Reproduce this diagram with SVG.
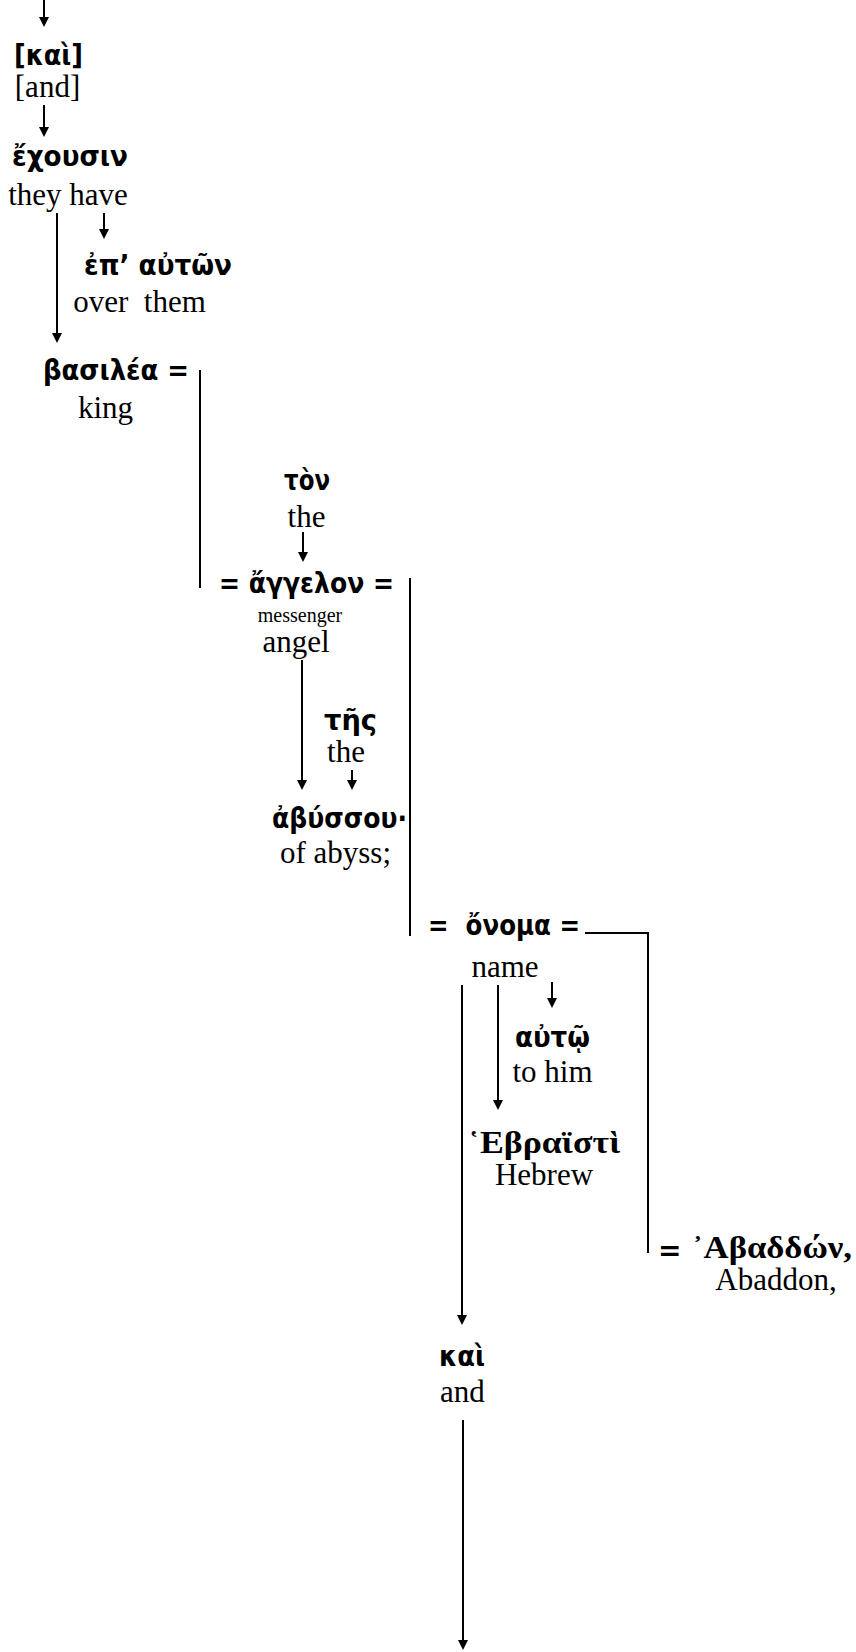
<svg xmlns="http://www.w3.org/2000/svg" width="856" height="1652" viewBox="0 0 856 1652">
<style>
.gk{font-family:"DejaVu Sans","Noto Sans",sans-serif;font-weight:bold;font-size:28px;fill:#000;white-space:pre}
.gs{font-family:"Liberation Serif","Times New Roman",serif;font-weight:bold;font-size:32px;fill:#000;white-space:pre}
.en{font-family:"Liberation Serif","Times New Roman",serif;font-size:31px;fill:#000;text-anchor:middle;white-space:pre}
.sm{font-family:"Liberation Serif","Times New Roman",serif;font-size:20px;fill:#000;text-anchor:middle}
.ln{stroke:#000;stroke-width:2;fill:none}
.ar{stroke:#000;stroke-width:2;fill:none;marker-end:url(#ah)}
</style>
<defs>
<marker id="ah" viewBox="0 0 10 10" refX="2" refY="5" markerWidth="10" markerHeight="10" markerUnits="userSpaceOnUse" orient="auto">
<path d="M0,0 L10,5 L0,10 z" fill="#000"/>
</marker>
</defs>
<rect width="856" height="1652" fill="#fff"/>
<g id="connectors">
<line class="ar" x1="44" y1="0" x2="44" y2="19"/>
<line class="ar" x1="44" y1="105" x2="44" y2="129"/>
<line class="ar" x1="57" y1="213" x2="57" y2="335"/>
<line class="ar" x1="104" y1="213" x2="104" y2="231"/>
<line class="ln" x1="200" y1="370" x2="200" y2="588"/>
<line class="ar" x1="303" y1="532" x2="303" y2="554"/>
<line class="ln" x1="410" y1="578" x2="410" y2="936"/>
<line class="ar" x1="302" y1="660" x2="302" y2="782"/>
<line class="ar" x1="352" y1="770" x2="352" y2="782"/>
<polyline class="ln" points="585,933 648,933 648,1253"/>
<line class="ar" x1="462" y1="985" x2="462" y2="1317"/>
<line class="ar" x1="498" y1="985" x2="498" y2="1102"/>
<line class="ar" x1="552" y1="982" x2="552" y2="1000"/>
<line class="ar" x1="463" y1="1420" x2="463" y2="1642"/>
</g>
<g id="kai1">
<text class="gk" x="14" y="65" textLength="69" lengthAdjust="spacingAndGlyphs">[καὶ]</text>
<text class="en" x="47.5" y="97">[and]</text>
</g>
<g id="echousin">
<text class="gk" x="12" y="166" textLength="116" lengthAdjust="spacingAndGlyphs">ἔχουσιν</text>
<text class="en" x="68" y="205">they have</text>
</g>
<g id="ep-auton">
<text class="gk" x="84" y="275" textLength="148" lengthAdjust="spacingAndGlyphs">ἐπ’ αὐτῶν</text>
<text class="en" x="139.5" y="312">over  them</text>
</g>
<g id="basilea">
<text class="gk" x="43" y="380" textLength="146" lengthAdjust="spacingAndGlyphs">βασιλέα =</text>
<text class="en" x="105.5" y="418">king</text>
</g>
<g id="ton">
<text class="gk" x="284" y="490" textLength="46" lengthAdjust="spacingAndGlyphs">τὸν</text>
<text class="en" x="306.5" y="527">the</text>
</g>
<g id="angelon">
<text class="gk" x="219" y="593" textLength="175" lengthAdjust="spacingAndGlyphs">= ἄγγελον =</text>
<text class="sm" x="300" y="622">messenger</text>
<text class="en" x="296" y="652">angel</text>
</g>
<g id="tes">
<text class="gk" x="324" y="730" textLength="53" lengthAdjust="spacingAndGlyphs">τῆς</text>
<text class="en" x="346" y="762">the</text>
</g>
<g id="abyssou">
<text class="gk" x="272" y="828" textLength="135" lengthAdjust="spacingAndGlyphs">ἀβύσσου·</text>
<text class="en" x="335.5" y="863">of abyss;</text>
</g>
<g id="onoma">
<text class="gk" x="428" y="935" textLength="152" lengthAdjust="spacingAndGlyphs">=  ὄνομα =</text>
<text class="en" x="505" y="977">name</text>
</g>
<g id="auto">
<text class="gk" x="515" y="1047" textLength="75" lengthAdjust="spacingAndGlyphs">αὐτῷ</text>
<text class="en" x="552.5" y="1082">to him</text>
</g>
<g id="hebraisti">
<text class="gs" x="468" y="1153" textLength="152" lengthAdjust="spacingAndGlyphs">῾Εβραϊστὶ</text>
<text class="en" x="544" y="1185">Hebrew</text>
</g>
<g id="abaddon">
<text class="gk" x="658" y="1260">=</text>
<text class="gs" x="692" y="1258" textLength="160" lengthAdjust="spacingAndGlyphs">᾿Αβαδδών,</text>
<text class="en" x="776" y="1290">Abaddon,</text>
</g>
<g id="kai2">
<text class="gk" x="439" y="1366" textLength="46" lengthAdjust="spacingAndGlyphs">καὶ</text>
<text class="en" x="462.5" y="1402">and</text>
</g>
</svg>
